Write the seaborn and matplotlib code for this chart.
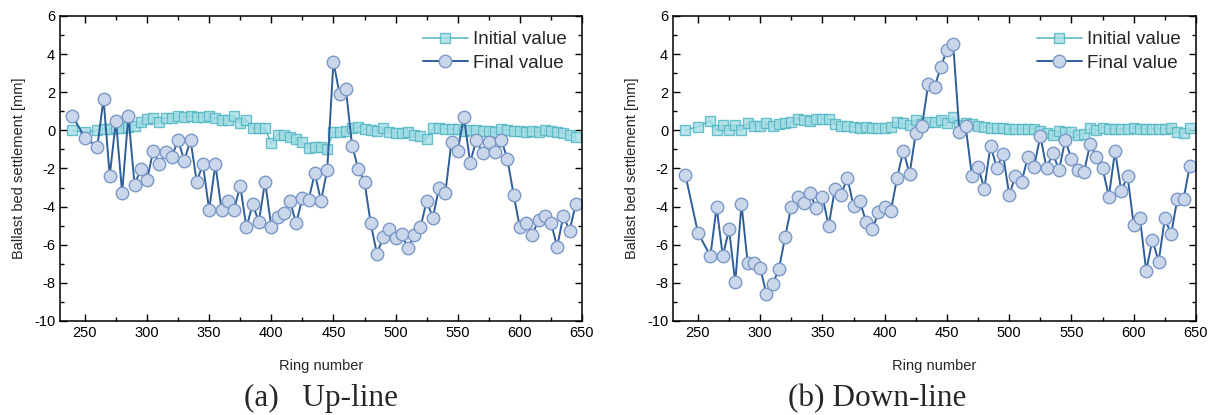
import matplotlib
matplotlib.use("Agg")
import matplotlib.pyplot as plt
from matplotlib.ticker import MultipleLocator
import seaborn as sns

# ring numbers shared by all series
rings = [240, 250, 260] + list(range(265, 650, 5))

up_initial = [0.0, -0.1, 0.0, 0.07, 0.08, 0.12, 0.12, 0.18, 0.25, 0.45,
              0.6, 0.65, 0.46, 0.64, 0.67, 0.75, 0.72, 0.76, 0.72, 0.72,
              0.74, 0.65, 0.55, 0.55, 0.75, 0.4, 0.55, 0.1, 0.12, 0.1,
              -0.68, -0.22, -0.25, -0.33, -0.45, -0.62, -0.92, -0.85, -0.85, -1.0,
              -0.07, -0.1, -0.03, 0.1, 0.2, 0.07, 0.03, -0.03, 0.1, -0.07,
              -0.15, -0.12, -0.1, -0.22, -0.32, -0.45, 0.12, 0.1, 0.08, 0.05,
              0.05, -0.05, 0.02, 0.0, -0.05, -0.03, -0.1, 0.05, 0.02, -0.02,
              -0.03, -0.08, -0.05, -0.1, 0.0, -0.05, -0.1, -0.15, -0.25, -0.35]

up_final = [0.76, -0.38, -0.87, 1.65, -2.38, 0.51, -3.28, 0.77, -2.86, -2.02,
            -2.6, -1.08, -1.78, -1.12, -1.38, -0.5, -1.59, -0.5, -2.69, -1.78,
            -4.18, -1.78, -4.18, -3.7, -4.18, -2.9, -5.09, -3.88, -4.79, -2.69,
            -5.05, -4.53, -4.35, -3.7, -4.88, -3.56, -3.65, -2.25, -3.7, -2.08,
            3.6, 1.89, 2.19, -0.8, -2.02, -2.69, -4.88, -6.48, -5.61, -5.19,
            -5.66, -5.45, -6.19, -5.49, -5.09, -3.7, -4.58, -3.0, -3.3, -0.59,
            -1.08, 0.72, -1.69, -0.5, -1.2, -0.59, -1.12, -0.5, -1.5, -3.39,
            -5.09, -4.84, -5.49, -4.7, -4.49, -4.84, -6.1, -4.49, -5.26, -3.86]

down_initial = [0.0, 0.2, 0.5, 0.0, 0.3, 0.0, 0.3, 0.0, 0.38, 0.25,
                0.25, 0.37, 0.25, 0.33, 0.37, 0.45, 0.62, 0.55, 0.48, 0.62,
                0.62, 0.6, 0.32, 0.25, 0.22, 0.2, 0.15, 0.2, 0.14, 0.14,
                0.14, 0.2, 0.45, 0.38, 0.3, 0.55, 0.35, 0.45, 0.45, 0.55,
                0.4, 0.68, 0.28, 0.37, 0.32, 0.25, 0.2, 0.14, 0.12, 0.12,
                0.08, 0.05, 0.05, 0.05, 0.05, -0.03, -0.15, -0.24, -0.05, -0.1,
                -0.1, -0.24, -0.2, 0.12, 0.0, 0.14, 0.07, 0.07, 0.07, 0.07,
                0.14, 0.07, 0.07, 0.07, 0.07, 0.07, 0.14, -0.07, -0.15, 0.1]

down_final = [-2.35, -5.36, -6.59, -4.03, -6.59, -5.19, -7.98, -3.86, -6.97, -6.97,
              -7.2, -8.58, -8.07, -7.29, -5.61, -4.0, -3.48, -3.79, -3.27, -4.09,
              -3.48, -5.0, -3.09, -3.39, -2.48, -3.97, -3.69, -4.79, -5.19, -4.3,
              -4.03, -4.21, -2.48, -1.06, -2.29, -0.12, 0.25, 2.43, 2.26, 3.31,
              4.22, 4.52, -0.08, 0.23, -2.37, -1.9, -3.07, -0.8, -1.96, -1.25,
              -3.39, -2.39, -2.69, -1.38, -1.9, -0.29, -1.99, -1.2, -2.08, -0.5,
              -1.52, -2.08, -2.2, -0.71, -1.38, -1.99, -3.48, -1.08, -3.18, -2.39,
              -4.96, -4.61, -7.37, -5.74, -6.88, -4.61, -5.45, -3.6, -3.6, -1.87]

captions = ["(a)   Up-line", "(b) Down-line"]

sns.set_style("ticks")
plt.rcParams["font.family"] = ["Liberation Sans", "DejaVu Sans"]
plt.rcParams["axes.unicode_minus"] = False

fig = plt.figure(figsize=(12.15, 4.15), dpi=100)
ax1 = fig.add_axes([60 / 1215, 1 - 321 / 415, 522 / 1215, 305 / 415])
ax2 = fig.add_axes([673 / 1215, 1 - 321 / 415, 523 / 1215, 305 / 415])

init_style = dict(color="#3aa6b6", marker="s", markersize=7.5, linewidth=1.2,
                  markerfacecolor="#a6dde5", markeredgecolor="#4ab3c1",
                  markeredgewidth=1.0, alpha=0.8)
final_style = dict(color="#2f5e98", marker="o", markersize=9, linewidth=1.4,
                   markerfacecolor="#cad7ea", markeredgecolor="#7b98c7",
                   markeredgewidth=1.0)

cap_x = [321 / 1215, 877 / 1215]

for ax, init, final, cap, cx in [(ax1, up_initial, up_final, captions[0], cap_x[0]),
                                 (ax2, down_initial, down_final, captions[1], cap_x[1])]:
    sns.lineplot(x=rings, y=init, ax=ax, label="Initial value", **init_style)
    sns.lineplot(x=rings, y=final, ax=ax, label="Final value", **final_style)
    ax.set_xlim(230, 650)
    ax.set_ylim(-10, 6)
    ax.xaxis.set_major_locator(MultipleLocator(50))
    ax.xaxis.set_minor_locator(MultipleLocator(25))
    ax.yaxis.set_major_locator(MultipleLocator(2))
    ax.yaxis.set_minor_locator(MultipleLocator(1))
    ax.tick_params(which="both", direction="in", top=True, right=True,
                   labelsize=10.5, width=1, colors="black")
    ax.tick_params(which="major", length=5)
    ax.tick_params(which="minor", length=3)
    for s in ax.spines.values():
        s.set_color("black")
        s.set_linewidth(1.1)
    ax.set_xlabel("Ring number", fontsize=10.5, labelpad=14)
    ax.set_ylabel("Ballast bed settlement [mm]", fontsize=10.5, labelpad=6)
    ax.legend(loc="upper right", frameon=False, fontsize=13.5,
              handlelength=2.4, handletextpad=0.3, labelspacing=0.35,
              borderaxespad=0.6, borderpad=0.2)
    fig.text(cx, 0.04, cap, ha="center", va="center",
             fontsize=22.5, family=["Liberation Serif", "DejaVu Serif"])

fig.savefig("out.png", dpi=100)
